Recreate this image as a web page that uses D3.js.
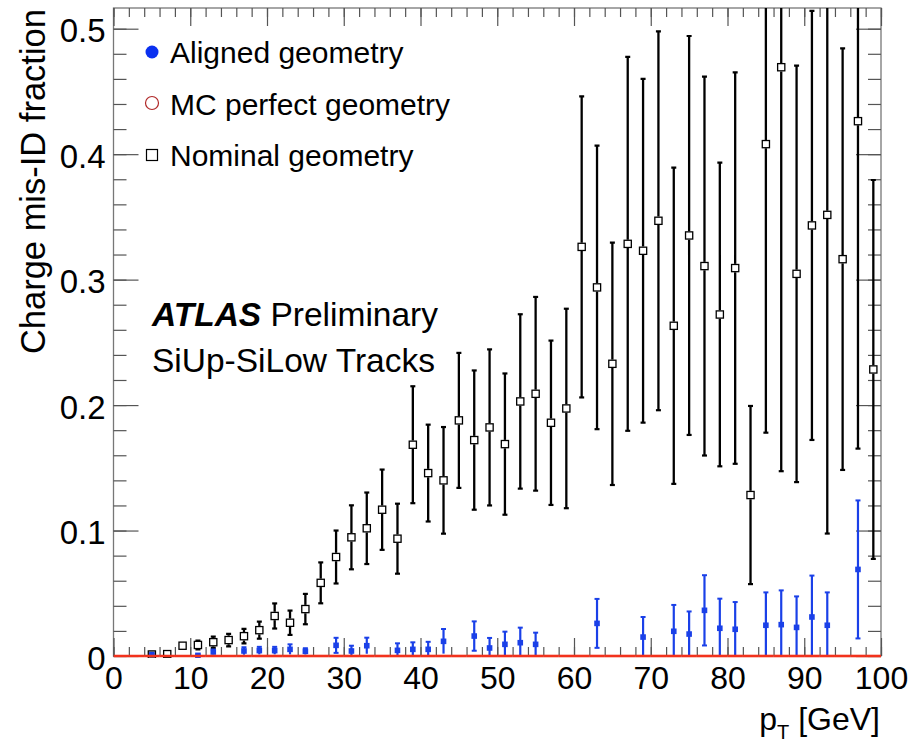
<!DOCTYPE html>
<html>
<head>
<meta charset="utf-8">
<script src="https://cdn.jsdelivr.net/npm/d3@7"></script>
<style>
  body { margin: 0; background: #fff; }
  text { font-family: "Liberation Sans", Arial, sans-serif; fill: #000; }
  .axis path { display: none; }
  .axis line { stroke: #555; stroke-width: 1.2; }
  .axis text { font-size: 32px; fill: #000; font-family: "Liberation Sans", Arial, sans-serif; }
</style>
</head>
<body>
<script>
// p_T bin centres (GeV)
var ptBins = [5, 7, 9, 11, 13, 15, 17, 19, 21, 23, 25, 27, 29, 31, 33, 35, 37, 39, 41, 43, 45, 47, 49, 51,
              53, 55, 57, 59, 61, 63, 65, 67, 69, 71, 73, 75, 77, 79, 81, 83, 85, 87, 89, 91, 93, 95, 97, 99];

// Nominal geometry
var nominalFraction = [0.0012, 0.0015, 0.0082, 0.0088, 0.0110, 0.0127, 0.0158, 0.0206, 0.0319, 0.0265, 0.0374, 0.0583,
                       0.0789, 0.0946, 0.1018, 0.1166, 0.0935, 0.1684, 0.1458, 0.1400, 0.1878, 0.1721, 0.1822, 0.1689,
                       0.2029, 0.2090, 0.1859, 0.1973, 0.3261, 0.2938, 0.2329, 0.3285, 0.3230, 0.3469, 0.2632, 0.3352,
                       0.3108, 0.2722, 0.3092, 0.1283, 0.4080, 0.4693, 0.3046, 0.3432, 0.3516, 0.3163, 0.4263, 0.2284];
var nominalError = [0, 0, 0.0020, 0.0035, 0.0045, 0.0050, 0.0058, 0.0068, 0.0100, 0.0097, 0.0121, 0.0163,
                    0.0211, 0.0255, 0.0285, 0.0320, 0.0279, 0.0466, 0.0386, 0.0425, 0.0538, 0.0555, 0.0622, 0.0563,
                    0.0695, 0.0772, 0.0655, 0.0795, 0.1200, 0.1130, 0.0966, 0.1490, 0.1370, 0.1510, 0.1260, 0.1590,
                    0.1510, 0.1210, 0.1560, 0.0710, 0.2300, 0.3220, 0.1660, 0.1710, 0.2540, 0.1680, 0.2610, 0.1510];

// Aligned geometry (null = empty bin)
var alignedFraction = [0.0012, null, null, 0.0005, 0.0032, null, 0.0040, 0.0043, 0.0043, 0.0053, 0.0037, null,
                       0.0085, 0.0040, 0.0082, null, 0.0045, 0.0053, 0.0053, 0.0117, null, 0.0159, 0.0064, 0.0093,
                       0.0106, 0.0093, null, null, null, 0.0260, null, null, 0.0151, null, 0.0197, 0.0175,
                       0.0364, 0.0221, 0.0213, null, 0.0245, 0.0250, 0.0228, 0.0311, 0.0245, null, 0.0690, null];
var alignedError = [0.0006, null, null, 0.0005, 0.0020, null, 0.0030, 0.0030, 0.0030, 0.0040, 0.0025, null,
                    0.0060, 0.0042, 0.0064, null, 0.0056, 0.0056, 0.0060, 0.0098, null, 0.0117, 0.0080, 0.0101,
                    0.0120, 0.0093, null, null, null, 0.0195, null, null, 0.0160, null, 0.0210, 0.0180,
                    0.0280, 0.0236, 0.0217, null, 0.0262, 0.0273, 0.0247, 0.0330, 0.0262, null, 0.0550, null];

// MC perfect geometry: 2 GeV bins from 0 to 100, all zero
var mcBins = [1, 3, 5, 7, 9, 11, 13, 15, 17, 19, 21, 23, 25, 27, 29, 31, 33, 35, 37, 39, 41, 43, 45, 47, 49,
              51, 53, 55, 57, 59, 61, 63, 65, 67, 69, 71, 73, 75, 77, 79, 81, 83, 85, 87, 89, 91, 93, 95, 97, 99];
var mcPerfectFraction = [0, 0, 0, 0, 0, 0, 0, 0, 0, 0, 0, 0, 0, 0, 0, 0, 0, 0, 0, 0, 0, 0, 0, 0, 0,
                         0, 0, 0, 0, 0, 0, 0, 0, 0, 0, 0, 0, 0, 0, 0, 0, 0, 0, 0, 0, 0, 0, 0, 0, 0];

var xTicks = [0, 10, 20, 30, 40, 50, 60, 70, 80, 90, 100];
var yTicks = [0, 0.1, 0.2, 0.3, 0.4, 0.5];

var legendLabels = ["Aligned geometry", "MC perfect geometry", "Nominal geometry"];

var width = 914, height = 742;
var frame = {left: 113.5, right: 881, top: 8, bottom: 656};

var svg = d3.select("body")
            .append("svg")
            .attr("width", width)
            .attr("height", height);

svg.append("rect")
   .attr("width", width)
   .attr("height", height)
   .attr("fill", "#fff");

//Scales
var xScale = d3.scaleLinear()
               .domain([0, 100])
               .range([frame.left, frame.right]);

var yScale = d3.scaleLinear()
               .domain([0, 0.5165])
               .range([frame.bottom, frame.top]);

svg.append("clipPath")
   .attr("id", "plotclip")
   .append("rect")
   .attr("x", frame.left)
   .attr("y", frame.top)
   .attr("width", frame.right - frame.left)
   .attr("height", frame.bottom - frame.top + 2);

//Frame
svg.append("rect")
   .attr("x", frame.left)
   .attr("y", frame.top)
   .attr("width", frame.right - frame.left)
   .attr("height", frame.bottom - frame.top)
   .attr("fill", "none")
   .attr("stroke", "#777")
   .attr("stroke-width", 1.3);

//Minor ticks (every 2 GeV / 0.02)
var xMinor = d3.range(0, 101, 2);
var yMinor = d3.range(0, 0.52, 0.02);

svg.append("g").attr("class", "axis")
   .attr("transform", "translate(0," + frame.bottom + ")")
   .call(d3.axisBottom(xScale).tickValues(xMinor).tickSize(-9).tickFormat(""));
svg.append("g").attr("class", "axis")
   .attr("transform", "translate(0," + frame.top + ")")
   .call(d3.axisTop(xScale).tickValues(xMinor).tickSize(-9).tickFormat(""));
svg.append("g").attr("class", "axis")
   .attr("transform", "translate(" + frame.left + ",0)")
   .call(d3.axisLeft(yScale).tickValues(yMinor).tickSize(-13).tickFormat(""));
svg.append("g").attr("class", "axis")
   .attr("transform", "translate(" + frame.right + ",0)")
   .call(d3.axisRight(yScale).tickValues(yMinor).tickSize(-13).tickFormat(""));

//Major ticks
svg.append("g").attr("class", "axis")
   .attr("transform", "translate(0," + frame.bottom + ")")
   .call(d3.axisBottom(xScale).tickValues(xTicks).tickSize(-18).tickPadding(10).tickFormat(d3.format("d")));
svg.append("g").attr("class", "axis")
   .attr("transform", "translate(0," + frame.top + ")")
   .call(d3.axisTop(xScale).tickValues(xTicks).tickSize(-18).tickFormat(""));
var yAxisG = svg.append("g").attr("class", "axis")
   .attr("transform", "translate(" + frame.left + ",0)")
   .call(d3.axisLeft(yScale).tickValues(yTicks).tickSize(-25).tickPadding(8)
         .tickFormat(function(d) { return d === 0 ? "0" : d3.format(".1f")(d); }));
yAxisG.selectAll("text").attr("dy", "0.4em").style("font-size", "33px");
svg.append("g").attr("class", "axis")
   .attr("transform", "translate(" + frame.right + ",0)")
   .call(d3.axisRight(yScale).tickValues(yTicks).tickSize(-25).tickFormat(""));

//Data
var nominal = ptBins.map(function(d, i) {
  return {x: d, y: nominalFraction[i], e: nominalError[i]};
});
var aligned = ptBins.map(function(d, i) {
  return {x: d, y: alignedFraction[i], e: alignedError[i]};
}).filter(function(d) { return d.y !== null; });
var mcPerfect = mcBins.map(function(d, i) {
  return {x: d, y: mcPerfectFraction[i]};
});

var plot = svg.append("g").attr("clip-path", "url(#plotclip)");

//Nominal: bars broken around the open square
var half = 4.2;
var nomG = plot.append("g");
nominal.forEach(function(d) {
  var cx = xScale(d.x), cy = yScale(d.y);
  var top = yScale(d.y + d.e), bot = yScale(Math.max(0, d.y - d.e));
  if (d.e > 0 && cy - half > top) {
    nomG.append("line").attr("x1", cx).attr("x2", cx).attr("y1", top).attr("y2", cy - half)
        .attr("stroke", "#000").attr("stroke-width", 2.3);
    nomG.append("line").attr("x1", cx - 2.5).attr("x2", cx + 2.5).attr("y1", top).attr("y2", top)
        .attr("stroke", "#000").attr("stroke-width", 2.2);
  }
  if (d.e > 0 && bot > cy + half) {
    nomG.append("line").attr("x1", cx).attr("x2", cx).attr("y1", cy + half).attr("y2", bot)
        .attr("stroke", "#000").attr("stroke-width", 2.3);
    nomG.append("line").attr("x1", cx - 2.5).attr("x2", cx + 2.5).attr("y1", bot).attr("y2", bot)
        .attr("stroke", "#000").attr("stroke-width", 2.2);
  }
});

//Aligned: blue bars and filled squares
var blue = "#1a40e8";
plot.append("g").selectAll("line.bar")
    .data(aligned)
    .enter()
    .append("line")
    .attr("x1", function(d) { return xScale(d.x); })
    .attr("x2", function(d) { return xScale(d.x); })
    .attr("y1", function(d) { return yScale(d.y + d.e); })
    .attr("y2", function(d) { return yScale(Math.max(0, d.y - d.e)); })
    .attr("stroke", blue)
    .attr("stroke-width", 2.2);

plot.append("g").selectAll("line.cap")
    .data(aligned)
    .enter()
    .append("line")
    .attr("x1", function(d) { return xScale(d.x) - 2.5; })
    .attr("x2", function(d) { return xScale(d.x) + 2.5; })
    .attr("y1", function(d) { return yScale(d.y + d.e); })
    .attr("y2", function(d) { return yScale(d.y + d.e); })
    .attr("stroke", blue)
    .attr("stroke-width", 2);

plot.append("g").selectAll("line.capb")
    .data(aligned.filter(function(d) { return d.y - d.e > 0.002; }))
    .enter()
    .append("line")
    .attr("x1", function(d) { return xScale(d.x) - 2.5; })
    .attr("x2", function(d) { return xScale(d.x) + 2.5; })
    .attr("y1", function(d) { return yScale(d.y - d.e); })
    .attr("y2", function(d) { return yScale(d.y - d.e); })
    .attr("stroke", blue)
    .attr("stroke-width", 2);

plot.append("g").selectAll("rect")
    .data(aligned)
    .enter()
    .append("rect")
    .attr("x", function(d) { return xScale(d.x) - 2.8; })
    .attr("y", function(d) { return yScale(d.y) - 2.8; })
    .attr("width", 5.6)
    .attr("height", 5.6)
    .attr("fill", blue);

//Nominal open squares
plot.append("g").selectAll("rect")
    .data(nominal)
    .enter()
    .append("rect")
    .attr("x", function(d) { return xScale(d.x) - 3.6; })
    .attr("y", function(d) { return yScale(d.y) - 3.6; })
    .attr("width", 7.2)
    .attr("height", 7.2)
    .attr("fill", "none")
    .attr("stroke", "#000")
    .attr("stroke-width", 1.3);

//MC perfect geometry (zero everywhere)
plot.append("g").selectAll("line")
    .data(mcPerfect)
    .enter()
    .append("line")
    .attr("x1", function(d) { return xScale(d.x - 1); })
    .attr("x2", function(d) { return xScale(d.x + 1); })
    .attr("y1", function(d) { return yScale(d.y); })
    .attr("y2", function(d) { return yScale(d.y); })
    .attr("stroke", "#f2321c")
    .attr("stroke-width", 2.6);

//Legend
var legend = svg.append("g");
legend.append("circle").attr("cx", 152).attr("cy", 52).attr("r", 6.5).attr("fill", "#0a30f0");
legend.append("circle").attr("cx", 152).attr("cy", 103).attr("r", 6.5)
      .attr("fill", "none").attr("stroke", "#b02828").attr("stroke-width", 1.2);
legend.append("rect").attr("x", 146.5).attr("y", 149.5).attr("width", 11).attr("height", 11)
      .attr("fill", "none").attr("stroke", "#000").attr("stroke-width", 1.2);

legend.selectAll("text")
      .data(legendLabels)
      .enter()
      .append("text")
      .attr("x", 170)
      .attr("y", function(d, i) { return 63 + i * 51.5; })
      .style("font-size", "30px")
      .text(function(d) { return d; });

//ATLAS label
var atlas = svg.append("text")
               .attr("x", 152)
               .attr("y", 326)
               .style("font-size", "33.5px");
atlas.append("tspan")
     .style("font-weight", "bold")
     .style("font-style", "italic")
     .text("ATLAS");
atlas.append("tspan").text(" Preliminary");

svg.append("text")
   .attr("x", 152)
   .attr("y", 372)
   .style("font-size", "33.5px")
   .text("SiUp-SiLow Tracks");

//Axis titles
svg.append("text")
   .attr("transform", "translate(45,9) rotate(-90)")
   .attr("text-anchor", "end")
   .style("font-size", "34.5px")
   .text("Charge mis-ID fraction");

var xTitle = svg.append("text")
                .attr("x", 880)
                .attr("y", 730)
                .attr("text-anchor", "end")
                .style("font-size", "32px");
xTitle.append("tspan").text("p");
xTitle.append("tspan").attr("dy", 9).style("font-size", "20px").text("T");
xTitle.append("tspan").attr("dy", -9).text(" [GeV]");
</script>
</body>
</html>
